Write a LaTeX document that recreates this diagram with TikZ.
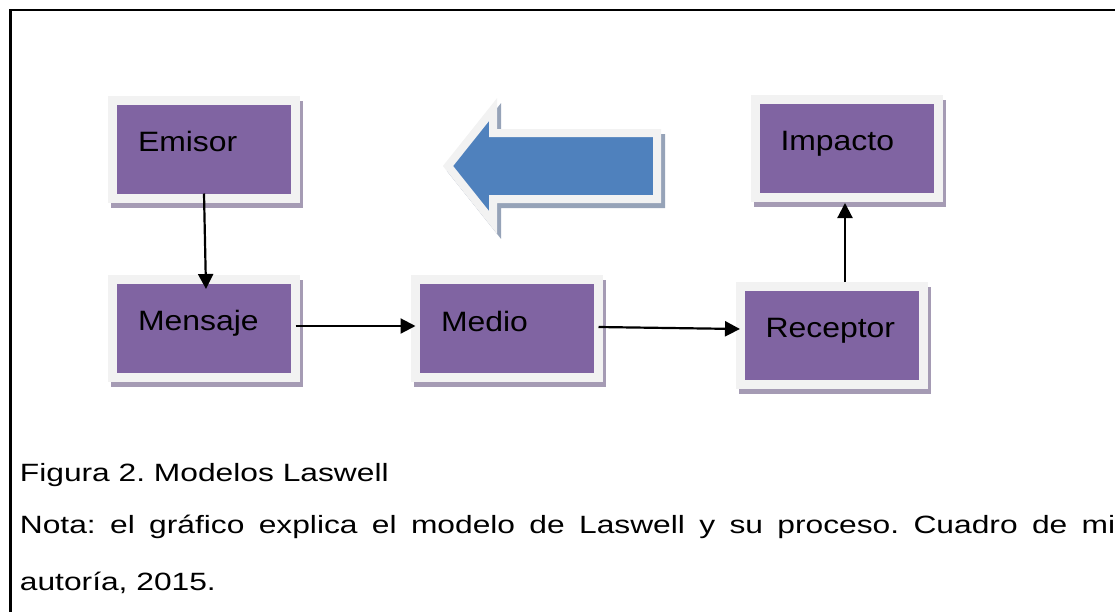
\documentclass[tikz,border=0pt]{standalone}
\usepackage{fontspec}
\setmainfont{Liberation Sans}
\newfontfamily\boxfont[FakeStretch=1.14]{Liberation Sans}
\newfontfamily\notefont[FakeStretch=1.27]{Liberation Sans}
\usepackage{tikz}
\usetikzlibrary{arrows.meta}
\definecolor{boxpurple}{RGB}{128, 100, 162}
\definecolor{boxrim}{RGB}{242, 242, 242}
\definecolor{boxshadow}{RGB}{165, 155, 180}
\definecolor{arrowblue}{RGB}{79, 129, 189}
\definecolor{arrowshadow}{RGB}{150, 163, 184}
\frenchspacing

\begin{document}
\begin{tikzpicture}[x=0.5pt, y=-0.5pt,
    stagebox/.style={fill=boxpurple, draw=boxrim, line width=4.5pt, outer sep=0pt,
        minimum width=91.5pt, minimum height=49pt, inner xsep=12.75pt, inner ysep=0pt,
        text width=66pt, align=left, text height=5pt, text depth=2.5pt,
        font=\boxfont\fontsize{14}{16}\selectfont,
        preaction={fill=boxshadow, draw=boxshadow, line width=4.5pt, transform canvas={xshift=1.5pt, yshift=-2.5pt}}},
    bigarrow/.style={fill=arrowblue, draw=boxrim, line width=4pt, line join=miter,
        preaction={fill=arrowshadow, draw=arrowshadow, line width=4pt, line join=miter, transform canvas={xshift=2pt, yshift=-2.5pt}}},
    conn/.style={-{Triangle[length=7.5pt, width=7.5pt]}, line width=1.1pt},
    caption/.style={inner sep=0pt, anchor=base west, font=\notefont\fontsize{12.5}{28.5}\selectfont},
]
\useasboundingbox (0,0) rectangle (1115,612);

% Frame
\draw[line width=1.25pt] (1115,10) -- (10.5,10) -- (10.5,612);

% Boxes
\node[stagebox] (emisor) at (204,149) {Emisor};
\node[stagebox] (mensaje) at (204,328) {Mensaje};
\node[stagebox] (medio) at (507,328.5) {Medio};
\node[stagebox] (receptor) at (831.5,335) {Receptor};
\node[stagebox] (impacto) at (846.5,148) {Impacto};

% Big arrow
\filldraw[bigarrow] (448,166) -- (493,109.6) -- (493,133) -- (657,133) -- (657,199)
    -- (493,199) -- (493,222.4) -- cycle;

% Arrows
\draw[conn] ([yshift=2.25pt]emisor.south) -- ([xshift=1pt, yshift=-5pt]mensaje.north);
\draw[conn] ([yshift=1pt]mensaje.east) -- ([yshift=1.25pt]medio.west);
\draw[conn] ([yshift=0.75pt]medio.east) -- ([yshift=3pt]receptor.west);
\draw[conn] ([xshift=6.75pt, yshift=2pt]receptor.north) -- ([xshift=-0.75pt, yshift=-3pt]impacto.south);

% Caption
\node[caption] (figura) at (19.5,481) {Figura 2. Modelos Laswell};
\node[caption, text width=547.75pt, align=justify] (nota) at (19.5,533)
    {Nota: el gráfico explica el modelo de Laswell y su proceso. Cuadro de mi\linebreak autoría, 2015.};
\end{tikzpicture}
\end{document}
